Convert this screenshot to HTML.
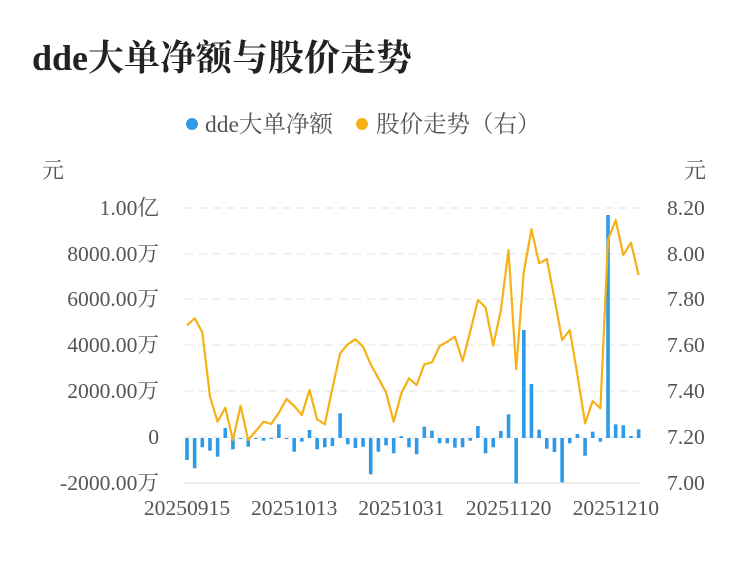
<!DOCTYPE html>
<html><head><meta charset="utf-8"><style>
body{margin:0;background:#fff;width:750px;height:558px;overflow:hidden}
</style></head><body>
<svg id="s" width="750" height="558" xmlns="http://www.w3.org/2000/svg" font-family="'Liberation Serif','Noto Serif CJK SC',serif">
<text x="32" y="70" font-size="36" font-weight="bold" fill="#222">dde大单净额与股价走势</text>
<circle cx="192" cy="124" r="6" fill="#2f9ae8"/>
<text x="205" y="132" font-size="23.5" fill="#555">dde大单净额</text>
<circle cx="362" cy="124" r="6" fill="#f5b116"/>
<text x="376" y="132" font-size="23.5" fill="#555">股价走势（右）</text>
<text x="42" y="178" font-size="22" fill="#555">元</text>
<text x="684" y="178" font-size="22" fill="#555">元</text>
<g id="g"></g>
</svg>
<script>
var g=document.getElementById('g'),h='';
var ys=[208,254,299,345,391,437,483],L=['1.00亿','8000.00万','6000.00万','4000.00万','2000.00万','0','-2000.00万'],R=['8.20','8.00','7.80','7.60','7.40','7.20','7.00'];
for(var i=0;i<7;i++){
 h+= i==6?'<line x1="185" x2="641" y1="483" y2="483" stroke="#e6e6e6" stroke-width="1.5"/>':'<line x1="185" x2="641" y1="'+ys[i]+'" y2="'+ys[i]+'" stroke="#ebebeb" stroke-width="1.5" stroke-dasharray="8,6"/>';
 h+='<text x="159" y="'+(ys[i]+7)+'" font-size="21.6" fill="#555" text-anchor="end">'+L[i]+'</text>';
 h+='<text x="667" y="'+(ys[i]+7)+'" font-size="21.6" fill="#555">'+R[i]+'</text>';
}
var xl=['20250915','20251013','20251031','20251120','20251210'];
for(var i=0;i<5;i++)h+='<text x="'+(187+i*107.2)+'" y="515" font-size="21.6" fill="#555" text-anchor="middle">'+xl[i]+'</text>';
var b=[22,30.3,9.3,12.7,18.7,-10,11.3,0.7,8.7,0.7,2.7,0.5,-13.7,1,13.7,3.7,-8,11.3,9.3,8,-24.7,6.3,10,8.7,36.3,13.7,7.3,15.3,-1.7,9.3,16.3,-11.3,-7.3,5.3,5.3,9.7,9.3,2.7,-12,15.3,9.3,-7,-23.7,45.3,-108,-54,-8.3,10.7,14,44.3,5.3,-4,17.7,-6.3,3.7,-223,-13.7,-12.7,-2,-8.7];
var l=[325.3,318.3,332.3,396.7,421.7,407.7,440,405.7,440,431,421.7,424,412.7,399,406,415,390,419.3,424.3,388.3,353.3,344.3,339.3,346.7,364.3,378.3,392.3,421.7,393.3,378.3,385,364.3,362.3,346,341.7,336.7,361,331.7,300,307.3,345.7,310,250,369.3,271.7,229.3,263.3,259,298.3,340,330,375,423.3,401,408.3,240,220,255,242.7,275];
var p=[];
for(var i=0;i<60;i++){var x=187+i*7.655;var v=b[i];var y=v>0?438:438+v;var hh=Math.max(Math.abs(v),1);
 h+='<rect x="'+(x-1.8)+'" y="'+y+'" width="3.6" height="'+hh+'" fill="#2f9ae8"/>';p.push(x.toFixed(1)+','+l[i]);}
h+='<polyline points="'+p.join(' ')+'" fill="none" stroke="#f5b116" stroke-width="2.2" stroke-linejoin="round"/>';
g.innerHTML=h;
</script>
</body></html>
